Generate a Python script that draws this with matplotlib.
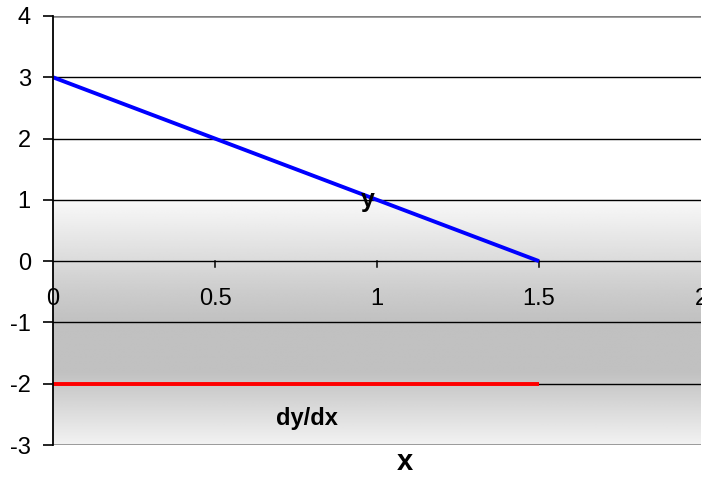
import numpy as np
import matplotlib
matplotlib.use("Agg")
import matplotlib.pyplot as plt

plt.rcParams['font.family'] = ['Liberation Sans', 'DejaVu Sans']

# Data
x_vals = [0, 0.5, 1.0, 1.5]
y_vals = [3, 2, 1, 0]
dydx_vals = [-2, -2, -2, -2]
x_ticks = [0, 0.5, 1, 1.5, 2]
x_tick_labels = ["0", "0.5", "1", "1.5", "2"]
y_ticks = [-3, -2, -1, 0, 1, 2, 3, 4]

W, H = 702, 499
fig = plt.figure(figsize=(W / 100, H / 100), dpi=100)
ax = fig.add_axes([53 / W, (H - 445) / H, (701 - 53) / W, (445 - 16) / H])
ax.set_xlim(0, 2)
ax.set_ylim(-3, 4)

# Background shading: white above y=1, grey band below fading out at the bottom
ys = np.linspace(4, -3, 700)
stops_y = [4.0, 1.01, 1.0, -0.5, -1.0, -1.8, -3.0]
stops_v = [1.0, 1.0, 0.975, 0.80, 0.755, 0.755, 0.95]
vals = np.interp(-ys, [-s for s in stops_y], stops_v)
img = np.tile(vals[:, None], (1, 2))
ax.imshow(img, cmap='gray', vmin=0, vmax=1, aspect='auto',
          extent=[0, 2, -3, 4], zorder=0, interpolation='bilinear')

# Horizontal gridlines
for yv in [-2, -1, 0, 1, 2, 3]:
    ax.axhline(yv, color='black', lw=1.0, zorder=1)
ax.axhline(4, color='#808080', lw=1.8, zorder=1)
ax.axhline(-3, color='#808080', lw=1.8, zorder=1)

# Series
ax.plot(x_vals, y_vals, color='#0000ff', lw=2.8, zorder=3, solid_capstyle='butt')
ax.plot(x_vals, dydx_vals, color='#ff0000', lw=2.8, zorder=3, solid_capstyle='butt')

# Spines and ticks
for s in ['top', 'right', 'bottom']:
    ax.spines[s].set_visible(False)
ax.spines['left'].set_color('black')
ax.spines['left'].set_linewidth(1.3)
ax.spines['left'].set_zorder(4)

ax.set_yticks(y_ticks)
ax.set_yticklabels([str(v) for v in y_ticks])
ax.tick_params(axis='y', direction='out', length=7, width=1.2, pad=9, labelsize=17)
ax.set_xticks([])

# x axis ticks drawn along y=0
for xv in x_ticks[1:-1]:
    ax.plot([xv, xv], [0, -0.1], color='black', lw=1.1, zorder=2, clip_on=False)
for xv, lab in zip(x_ticks, x_tick_labels):
    ax.text(xv, -0.62, lab, ha='center', va='center', fontsize=17, zorder=5, clip_on=False)

# Series labels
ax.text(0.972, 1.0, 'y', ha='center', va='center', fontsize=18, fontweight='bold', zorder=5)
ax.text(0.784, -2.56, 'dy/dx', ha='center', va='center', fontsize=17, fontweight='bold', zorder=5)

fig.text(405 / W, 1 - 462 / H, 'x', ha='center', va='center', fontsize=21, fontweight='bold')

fig.savefig('out.png', dpi=100)
